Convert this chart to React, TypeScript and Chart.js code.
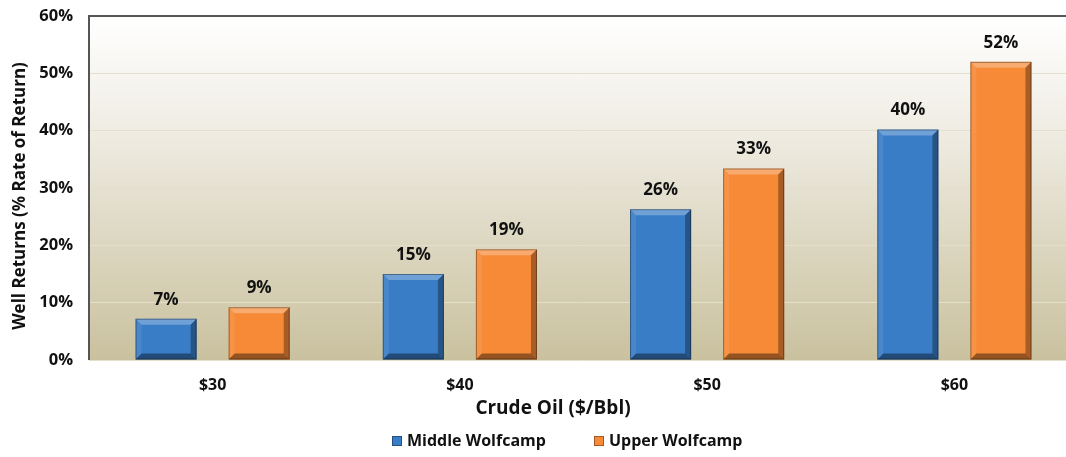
import React, { useEffect, useRef } from "react";
import { Chart, registerables } from "chart.js";

Chart.register(...registerables);

const categories = ["$30", "$40", "$50", "$60"];
const middleWolfcamp = [7.2, 15.0, 26.3, 40.2];
const upperWolfcamp = [9.2, 19.3, 33.4, 52.0];
const seriesNames = ["Middle Wolfcamp", "Upper Wolfcamp"];
const yTitle = "Well Returns (% Rate of Return)";
const xTitle = "Crude Oil ($/Bbl)";

const BLUE = "#3a7dc7";
const ORANGE = "#f78a37";
const FONT = "'Open Sans'";

const decorPlugin = {
  id: "decor",
  beforeDraw(chart: any) {
    const { ctx, chartArea: a } = chart;
    ctx.save();
    const g = ctx.createLinearGradient(0, a.top, 0, a.bottom);
    g.addColorStop(0, "#ffffff");
    g.addColorStop(0.3, "#f1eee6");
    g.addColorStop(1, "#c9c19e");
    ctx.fillStyle = g;
    ctx.fillRect(a.left, a.top, a.right - a.left, a.bottom - a.top);
    ctx.restore();
  },
  afterDatasetsDraw(chart: any) {
    const { ctx, chartArea: a } = chart;
    ctx.save();
    chart.data.datasets.forEach((ds: any, di: number) => {
      const meta = chart.getDatasetMeta(di);
      meta.data.forEach((el: any, i: number) => {
        const w = el.width;
        const l = el.x - w / 2;
        const r = el.x + w / 2;
        const t = el.y;
        const b = el.base;
        const bv = 6;
        ctx.fillStyle = "rgba(255,255,255,0.28)";
        ctx.beginPath();
        ctx.moveTo(l, t); ctx.lineTo(r, t); ctx.lineTo(r - bv, t + bv); ctx.lineTo(l + bv, t + bv); ctx.closePath(); ctx.fill();
        ctx.fillStyle = "rgba(255,255,255,0.08)";
        ctx.beginPath();
        ctx.moveTo(l, t); ctx.lineTo(l + bv, t + bv); ctx.lineTo(l + bv, b - bv); ctx.lineTo(l, b); ctx.closePath(); ctx.fill();
        ctx.fillStyle = "rgba(0,0,0,0.32)";
        ctx.beginPath();
        ctx.moveTo(r, t); ctx.lineTo(r - bv, t + bv); ctx.lineTo(r - bv, b - bv); ctx.lineTo(r, b); ctx.closePath(); ctx.fill();
        ctx.fillStyle = "rgba(0,0,0,0.4)";
        ctx.beginPath();
        ctx.moveTo(l, b); ctx.lineTo(l + bv, b - bv); ctx.lineTo(r - bv, b - bv); ctx.lineTo(r, b); ctx.closePath(); ctx.fill();
        ctx.strokeStyle = "rgba(0,0,0,0.35)";
        ctx.lineWidth = 1;
        ctx.strokeRect(l + 0.5, t + 0.5, w - 1, b - t - 1);
        const v = ds.data[i];
        ctx.fillStyle = "#111111";
        ctx.font = `bold 17px ${FONT}`;
        ctx.textAlign = "center";
        ctx.textBaseline = "middle";
        ctx.fillText(Math.round(v) + "%", el.x, t - 19);
      });
    });
    ctx.strokeStyle = "#555555";
    ctx.lineWidth = 2;
    ctx.beginPath();
    ctx.moveTo(a.left - 1, a.top);
    ctx.lineTo(chart.width, a.top);
    ctx.stroke();
    ctx.beginPath();
    ctx.moveTo(a.left, a.top);
    ctx.lineTo(a.left, a.bottom);
    ctx.stroke();
    // y title
    ctx.save();
    ctx.translate(20, 196);
    ctx.rotate(-Math.PI / 2);
    ctx.fillStyle = "#111111";
    ctx.font = `bold 17px ${FONT}`;
    ctx.textAlign = "center";
    ctx.textBaseline = "middle";
    ctx.fillText(yTitle, 0, 0);
    ctx.restore();
    // x title
    ctx.fillStyle = "#111111";
    ctx.font = `bold 19px ${FONT}`;
    ctx.textAlign = "center";
    ctx.textBaseline = "middle";
    ctx.fillText(xTitle, 553, 409);
    // legend
    ctx.font = `bold 16px ${FONT}`;
    ctx.textBaseline = "middle";
    ctx.textAlign = "left";
    const colors = [BLUE, ORANGE];
    const boxX = [392, 594];
    const ly = 441;
    seriesNames.forEach((n, k) => {
      ctx.fillStyle = colors[k];
      ctx.fillRect(boxX[k], ly - 5, 10, 10);
      ctx.strokeStyle = "rgba(0,0,0,0.35)";
      ctx.lineWidth = 1;
      ctx.strokeRect(boxX[k] + 0.5, ly - 4.5, 9, 9);
      ctx.fillStyle = "#111111";
      ctx.fillText(n, boxX[k] + 15, ly);
    });
    ctx.restore();
  },
};

export default function App() {
  const ref = useRef<HTMLCanvasElement>(null);
  useEffect(() => {
    document.body.style.margin = "0";
    const chart = new Chart(ref.current as HTMLCanvasElement, {
      type: "bar",
      data: {
        labels: categories,
        datasets: [
          { label: seriesNames[0], data: middleWolfcamp, backgroundColor: BLUE, categoryPercentage: 0.753, barPercentage: 0.656 },
          { label: seriesNames[1], data: upperWolfcamp, backgroundColor: ORANGE, categoryPercentage: 0.753, barPercentage: 0.656 },
        ],
      },
      options: {
        animation: false,
        responsive: false,
        layout: { padding: { top: 16, right: 0, bottom: 30, left: 0 } },
        plugins: { legend: { display: false }, tooltip: { enabled: false } },
        scales: {
          x: {
            grid: { display: false },
            border: { display: false },
            ticks: { color: "#111", font: { family: FONT, size: 16, weight: "bold" }, padding: 8 },
            afterFit: (s: any) => { s.height = 67; s.paddingLeft = 0; s.paddingRight = 0; },
          },
          y: {
            min: 0,
            max: 60,
            ticks: { stepSize: 10, color: "#111", font: { family: FONT, size: 16.5, weight: "bold" }, padding: 16, callback: (v: any) => v + "%" },
            grid: { color: "#e4dfca", drawTicks: false, lineWidth: 1 },
            border: { display: false },
            afterFit: (s: any) => { s.width = 89; s.paddingTop = 0; s.paddingBottom = 0; },
          },
        },
      },
      plugins: [decorPlugin],
    });
    return () => chart.destroy();
  }, []);
  return (
    <div style={{ width: 1066, height: 457, overflow: "hidden" }}>
      <canvas ref={ref} width={1078} height={457} style={{ display: "block" }} />
    </div>
  );
}
